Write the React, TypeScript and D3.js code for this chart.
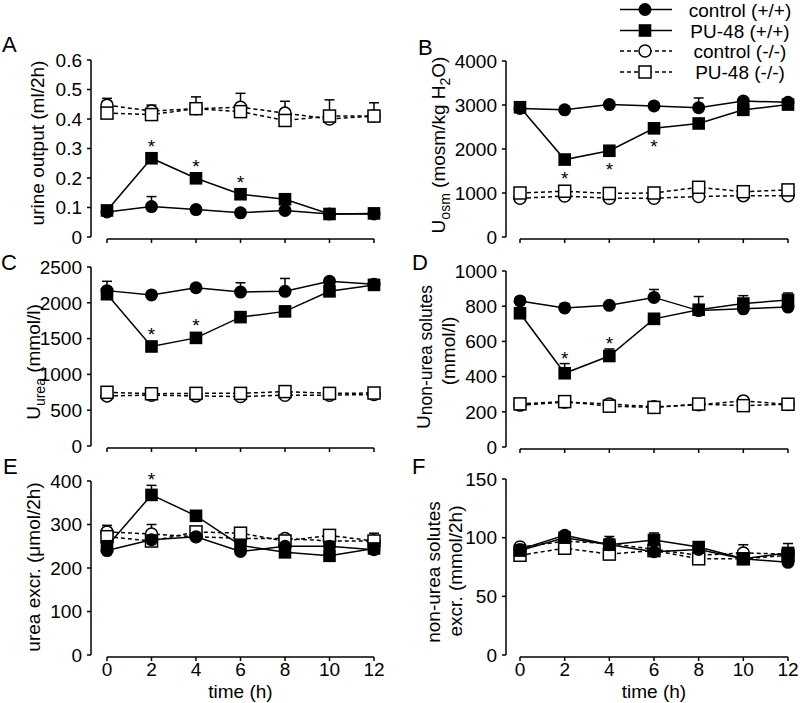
import React from "react";
import * as d3 from "d3";

// ---------- DATA ----------
const times = [0, 2, 4, 6, 8, 10, 12];
const seriesNames = ["control (+/+)", "PU-48 (+/+)", "control (-/-)", "PU-48 (-/-)"];

// A: urine output (ml/2h)
const urineCtrlWT = [0.085, 0.103, 0.093, 0.082, 0.09, 0.078, 0.078];
const urinePuWT = [0.09, 0.267, 0.199, 0.145, 0.128, 0.078, 0.08];
const urineCtrlKO = [0.447, 0.427, 0.435, 0.44, 0.42, 0.4, 0.41];
const urinePuKO = [0.42, 0.415, 0.435, 0.425, 0.395, 0.41, 0.41];
const urineCtrlWTErr = [0, 0.034, 0.012, 0, 0, 0, 0];
const urinePuWTErr = [0, 0, 0, 0, 0, 0, 0];
const urineCtrlKOErr = [0.023, 0.02, 0.04, 0.047, 0.04, 0, 0];
const urinePuKOErr = [0, 0, 0, 0, 0, 0.055, 0.045];
const urineTicks = [0, 0.1, 0.2, 0.3, 0.4, 0.5, 0.6];

// B: Uosm (mosm/kg H2O)
const osmCtrlWT = [2920, 2890, 3010, 2980, 2940, 3090, 3060];
const osmPuWT = [2950, 1760, 1960, 2470, 2580, 2890, 3010];
const osmCtrlKO = [880, 930, 880, 880, 920, 940, 940];
const osmPuKO = [1000, 1040, 990, 1000, 1130, 1030, 1070];
const osmCtrlWTErr = [0, 0, 0, 0, 220, 40, 0];
const osmPuWTErr = [0, 0, 0, 0, 0, 0, 0];
const osmCtrlKOErr = [0, 0, 0, 0, 0, 0, 0];
const osmPuKOErr = [0, 0, 0, 0, 0, 0, 0];
const osmTicks = [0, 1000, 2000, 3000, 4000];

// C: Uurea (mmol/l)
const ureaCtrlWT = [2170, 2110, 2210, 2150, 2160, 2300, 2260];
const ureaPuWT = [2120, 1390, 1510, 1800, 1880, 2160, 2250];
const ureaCtrlKO = [700, 710, 700, 690, 710, 710, 720];
const ureaPuKO = [750, 730, 735, 735, 760, 735, 740];
const ureaCtrlWTErr = [130, 0, 0, 130, 180, 50, 0];
const ureaPuWTErr = [0, 0, 0, 0, 0, 0, 0];
const ureaCtrlKOErr = [0, 0, 0, 0, 0, 0, 0];
const ureaPuKOErr = [0, 0, 0, 0, 0, 0, 0];
const ureaTicks = [0, 500, 1000, 1500, 2000, 2500];

// D: Unon-urea solutes (mmol/l)
const nuCtrlWT = [830, 790, 805, 850, 775, 785, 795];
const nuPuWT = [760, 419, 517, 728, 780, 815, 835];
const nuCtrlKO = [238, 255, 245, 228, 240, 262, 242];
const nuPuKO = [245, 258, 232, 225, 244, 235, 243];
const nuCtrlWTErr = [0, 25, 0, 45, 0, 0, 0];
const nuPuWTErr = [0, 55, 40, 30, 75, 45, 40];
const nuCtrlKOErr = [0, 0, 0, 0, 0, 0, 0];
const nuPuKOErr = [0, 0, 0, 0, 0, 0, 0];
const nuTicks = [0, 200, 400, 600, 800, 1000];

// E: urea excr. (µmol/2h)
const ueCtrlWT = [240, 265, 272, 238, 250, 250, 242];
const uePuWT = [250, 368, 320, 252, 236, 228, 245];
const ueCtrlKO = [283, 278, 272, 268, 268, 262, 262];
const uePuKO = [272, 262, 283, 280, 262, 275, 262];
const ueCtrlWTErr = [0, 0, 0, 0, 0, 0, 0];
const uePuWTErr = [0, 22, 0, 0, 0, 0, 0];
const ueCtrlKOErr = [15, 22, 0, 0, 0, 0, 0];
const uePuKOErr = [0, 0, 0, 0, 0, 0, 18];
const ueTicks = [0, 100, 200, 300, 400];

// F: non-urea solutes excr. (mmol/2h)
const nsCtrlWT = [90, 102, 94, 88, 90, 82, 79];
const nsPuWT = [89, 100, 94, 98, 92, 82, 87];
const nsCtrlKO = [92, 97, 95, 90, 85, 87, 86];
const nsPuKO = [85, 91, 86, 89, 82, 82, 85];
const nsCtrlWTErr = [0, 0, 0, 0, 0, 0, 0];
const nsPuWTErr = [0, 0, 0, 6, 0, 0, 8];
const nsCtrlKOErr = [0, 0, 6, 0, 0, 7, 0];
const nsPuKOErr = [0, 0, 0, 0, 0, 0, 0];
const nsTicks = [0, 50, 100, 150];

const xTicks = [0, 2, 4, 6, 8, 10, 12];

// ---------- STYLE / LAYOUT ----------
const FONT = "'Liberation Sans', Arial, Helvetica, sans-serif";
const FS = 19;

type Seg = { t: string; sub?: boolean; size?: number; shift?: number };
type Star = { i: number; s: number; below?: boolean };

interface PanelDef {
  letter: string;
  letterX: number;
  letterY: number;
  yAxisX: number;
  x0: number;
  x1: number;
  yTop: number;
  yBottom: number;
  xAxisY: number;
  yMax: number;
  yTicks: number[];
  fmt: (d: number) => string;
  series: number[][];
  errs: number[][];
  stars: Star[];
  label: { lines: Seg[][]; xs: number[]; cys: number[] };
  xLabels: boolean;
}

const panels: PanelDef[] = [
  {
    letter: "A", letterX: 2, letterY: 52, yAxisX: 91, x0: 107, x1: 374, yTop: 60, yBottom: 237, xAxisY: 239,
    yMax: 0.6, yTicks: urineTicks, fmt: (d) => (d === 0 ? "0" : d.toFixed(1)),
    series: [urineCtrlWT, urinePuWT, urineCtrlKO, urinePuKO],
    errs: [urineCtrlWTErr, urinePuWTErr, urineCtrlKOErr, urinePuKOErr],
    stars: [{ i: 1, s: 1 }, { i: 2, s: 1 }, { i: 3, s: 1 }],
    label: { lines: [[{ t: "urine output (ml/2h)" }]], xs: [44], cys: [143] },
    xLabels: false,
  },
  {
    letter: "B", letterX: 418, letterY: 55, yAxisX: 506, x0: 520, x1: 788, yTop: 61, yBottom: 237, xAxisY: 239,
    yMax: 4000, yTicks: osmTicks, fmt: (d) => String(d),
    series: [osmCtrlWT, osmPuWT, osmCtrlKO, osmPuKO],
    errs: [osmCtrlWTErr, osmPuWTErr, osmCtrlKOErr, osmPuKOErr],
    stars: [{ i: 1, s: 1, below: true }, { i: 2, s: 1, below: true }, { i: 3, s: 1, below: true }],
    label: {
      lines: [[{ t: "U" }, { t: "osm", sub: true, size: 14, shift: 5 }, { t: " (mosm/kg H" }, { t: "2", sub: true, size: 14, shift: 5 }, { t: "O)" }]],
      xs: [445], cys: [145],
    },
    xLabels: false,
  },
  {
    letter: "C", letterX: 1, letterY: 270, yAxisX: 91, x0: 107, x1: 374, yTop: 267, yBottom: 446, xAxisY: 448,
    yMax: 2500, yTicks: ureaTicks, fmt: (d) => String(d),
    series: [ureaCtrlWT, ureaPuWT, ureaCtrlKO, ureaPuKO],
    errs: [ureaCtrlWTErr, ureaPuWTErr, ureaCtrlKOErr, ureaPuKOErr],
    stars: [{ i: 1, s: 1 }, { i: 2, s: 1 }],
    label: { lines: [[{ t: "U" }, { t: "urea", sub: true, size: 14, shift: 5 }, { t: " (mmol/l)" }]], xs: [40], cys: [362] },
    xLabels: false,
  },
  {
    letter: "D", letterX: 412, letterY: 270, yAxisX: 506, x0: 520, x1: 788, yTop: 271, yBottom: 447, xAxisY: 449,
    yMax: 1000, yTicks: nuTicks, fmt: (d) => String(d),
    series: [nuCtrlWT, nuPuWT, nuCtrlKO, nuPuKO],
    errs: [nuCtrlWTErr, nuPuWTErr, nuCtrlKOErr, nuPuKOErr],
    stars: [{ i: 1, s: 1 }, { i: 2, s: 1 }],
    label: {
      lines: [[{ t: "U" }, { t: "non-urea solutes", sub: true, size: 17.5, shift: 2 }], [{ t: "(mmol/l)" }]],
      xs: [430, 455], cys: [357, 351],
    },
    xLabels: false,
  },
  {
    letter: "E", letterX: 3, letterY: 474, yAxisX: 91, x0: 107, x1: 374, yTop: 481, yBottom: 655, xAxisY: 657,
    yMax: 400, yTicks: ueTicks, fmt: (d) => String(d),
    series: [ueCtrlWT, uePuWT, ueCtrlKO, uePuKO],
    errs: [ueCtrlWTErr, uePuWTErr, ueCtrlKOErr, uePuKOErr],
    stars: [{ i: 1, s: 1 }],
    label: { lines: [[{ t: "urea excr. (μmol/2h)" }]], xs: [40], cys: [567] },
    xLabels: true,
  },
  {
    letter: "F", letterX: 412, letterY: 474, yAxisX: 506, x0: 520, x1: 788, yTop: 479, yBottom: 655, xAxisY: 657,
    yMax: 150, yTicks: nsTicks, fmt: (d) => String(d),
    series: [nsCtrlWT, nsPuWT, nsCtrlKO, nsPuKO],
    errs: [nsCtrlWTErr, nsPuWTErr, nsCtrlKOErr, nsPuKOErr],
    stars: [],
    label: { lines: [[{ t: "non-urea solutes" }], [{ t: "excr. (mmol/2h)" }]], xs: [440, 462], cys: [572, 571] },
    xLabels: true,
  },
];

// series style: 0 filled circle solid, 1 filled square solid, 2 open circle dashed, 3 open square dashed
const filled = [true, true, false, false];
const shapes = ["circle", "square", "circle", "square"];
const drawOrder = [2, 3, 0, 1];
const DASH = "4,3";

function Marker({ x, y, s }: { x: number; y: number; s: number }) {
  const isFilled = filled[s];
  if (shapes[s] === "circle") {
    const r = isFilled ? 6.5 : 6;
    return (
      <circle cx={x} cy={y} r={r} fill={isFilled ? "#000" : "#fff"} stroke="#000" strokeWidth={isFilled ? 0 : 1.5} />
    );
  }
  const h = isFilled ? 6.3 : 6;
  return (
    <rect x={x - h} y={y - h} width={2 * h} height={2 * h} fill={isFilled ? "#000" : "#fff"} stroke="#000" strokeWidth={isFilled ? 0 : 1.5} />
  );
}

function RotLabel({ segs, x, cy }: { segs: Seg[]; x: number; cy: number }) {
  let cur = 0;
  return (
    <text transform={`translate(${x},${cy}) rotate(-90)`} textAnchor="middle" fontFamily={FONT} fontSize={FS} fill="#000">
      {segs.map((sg, k) => {
        const target = sg.sub ? sg.shift || 0 : 0;
        const dy = target - cur;
        cur = target;
        return (
          <tspan key={k} dy={dy} fontSize={sg.size || FS}>{sg.t}</tspan>
        );
      })}
    </text>
  );
}

function Panel({ p }: { p: PanelDef }) {
  const x = d3.scaleLinear().domain([0, 12]).range([p.x0, p.x1]);
  const y = d3.scaleLinear().domain([0, p.yMax]).range([p.yBottom, p.yTop]);
  const line = d3.line<number>().x((_, i) => x(times[i])).y((d) => y(d));

  return (
    <g>
      <text x={p.letterX} y={p.letterY} fontFamily={FONT} fontSize={22} fill="#000">{p.letter}</text>
      {/* y axis */}
      <line x1={p.yAxisX} x2={p.yAxisX} y1={y(0)} y2={y(p.yMax)} stroke="#000" strokeWidth={1.5} />
      {p.yTicks.map((t) => (
        <g key={t}>
          <line x1={p.yAxisX - 4} x2={p.yAxisX} y1={y(t)} y2={y(t)} stroke="#000" strokeWidth={1.5} />
          <text x={p.yAxisX - 9} y={y(t) + 6.8} textAnchor="end" fontFamily={FONT} fontSize={FS} fill="#000">{p.fmt(t)}</text>
        </g>
      ))}
      {/* x axis */}
      <line x1={x(0)} x2={x(12)} y1={p.xAxisY} y2={p.xAxisY} stroke="#000" strokeWidth={1.5} />
      {xTicks.map((t) => (
        <g key={t}>
          <line x1={x(t)} x2={x(t)} y1={p.xAxisY} y2={p.xAxisY + 4} stroke="#000" strokeWidth={1.5} />
          {p.xLabels && (
            <text x={x(t)} y={p.xAxisY + 19} textAnchor="middle" fontFamily={FONT} fontSize={FS} fill="#000">{t}</text>
          )}
        </g>
      ))}
      {p.xLabels && (
        <text x={(p.x0 + p.x1) / 2} y={p.xAxisY + 41} textAnchor="middle" fontFamily={FONT} fontSize={FS} fill="#000">time (h)</text>
      )}
      {p.label.lines.map((segs, k) => (
        <RotLabel key={k} segs={segs} x={p.label.xs[k]} cy={p.label.cys[k]} />
      ))}
      {/* series */}
      {drawOrder.map((s) => {
        const vals = p.series[s];
        const err = p.errs[s];
        return (
          <g key={s}>
            {vals.map((v, i) =>
              err[i] > 0 ? (
                <g key={"e" + i}>
                  <line x1={x(times[i])} x2={x(times[i])} y1={y(v)} y2={y(v + err[i])} stroke="#000" strokeWidth={1.5} />
                  <line x1={x(times[i]) - 5} x2={x(times[i]) + 5} y1={y(v + err[i])} y2={y(v + err[i])} stroke="#000" strokeWidth={1.5} />
                </g>
              ) : null
            )}
            <path d={line(vals) || ""} fill="none" stroke="#000" strokeWidth={1.5} strokeDasharray={filled[s] ? undefined : DASH} />
            {vals.map((v, i) => (
              <Marker key={i} x={x(times[i])} y={y(v)} s={s} />
            ))}
          </g>
        );
      })}
      {p.stars.map((st, k) => {
        const v = p.series[st.s][st.i];
        const e = p.errs[st.s][st.i];
        const cx = x(times[st.i]);
        const topY = Math.min(y(v) - 6.5, y(v + e));
        const cyStar = st.below ? y(v) + 14 : topY - 10;
        return (
          <text key={k} x={cx} y={cyStar + 11} textAnchor="middle" fontFamily={FONT} fontSize={FS} fill="#000">*</text>
        );
      })}
    </g>
  );
}

function Legend() {
  const rows = [9.5, 30.5, 51, 72];
  const lx0 = 620, lx1 = 672, mx = 645, tx = 740;
  return (
    <g>
      {seriesNames.map((name, s) => (
        <g key={s}>
          <line x1={lx0} x2={lx1} y1={rows[s]} y2={rows[s]} stroke="#000" strokeWidth={1.5} strokeDasharray={filled[s] ? undefined : DASH} />
          <Marker x={mx} y={rows[s]} s={s} />
          <text x={tx} y={rows[s] + 7} textAnchor="middle" fontFamily={FONT} fontSize={FS} fill="#000">{name}</text>
        </g>
      ))}
    </g>
  );
}

export default function App() {
  return (
    <svg width={800} height={703} style={{ position: "absolute", left: 0, top: 0, background: "#fff" }}>
      <rect x={0} y={0} width={800} height={703} fill="#fff" />
      {panels.map((p) => (
        <Panel key={p.letter} p={p} />
      ))}
      <Legend />
    </svg>
  );
}
